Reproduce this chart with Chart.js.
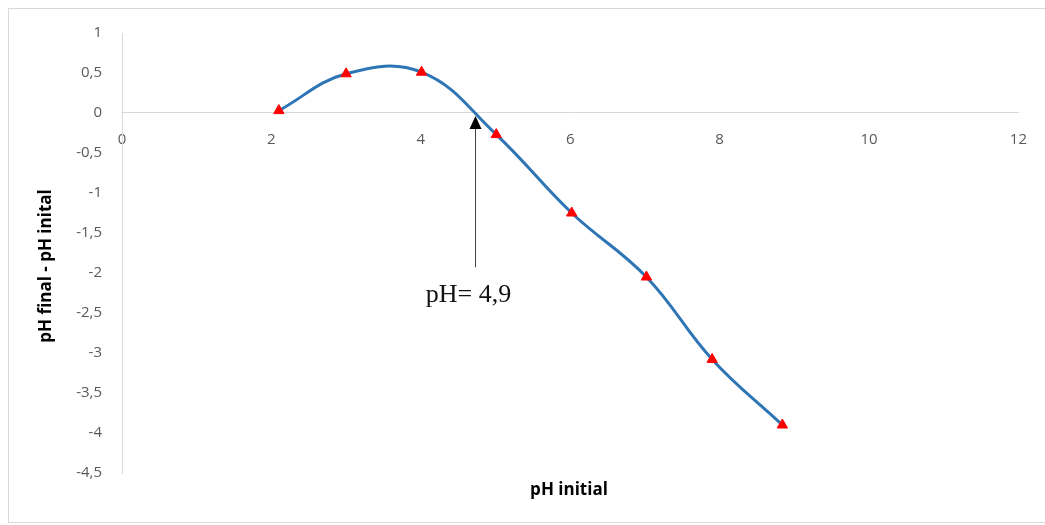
<!DOCTYPE html>
<html>
<head>
<meta charset="utf-8">
<script src="https://cdn.jsdelivr.net/npm/chart.js@4.4.1/dist/chart.umd.min.js"></script>
<style>
  html, body { margin: 0; padding: 0; background: #ffffff; }
  #wrap { position: relative; width: 1045px; height: 525px; }
</style>
</head>
<body>
<div id="wrap"><canvas id="c" width="1045" height="525"></canvas></div>
<script>
// Measured pH drift: initial pH vs (final pH - initial pH)
const phInitial = [2.1, 3.0, 4.01, 5.01, 6.02, 7.02, 7.9, 8.84];
const phDelta   = [0.03, 0.49, 0.51, -0.27, -1.25, -2.05, -3.08, -3.9];

// Axis ranges and tick spacing
const xMin = 0, xMax = 12, xStep = 2;
const yMin = -4.5, yMax = 1, yStep = 0.5;

// Axis titles
const xTitle = 'pH initial';
const yTitle = 'pH final - pH inital';

// Point of zero charge annotation
const pzcLabel = 'pH= 4,9';
const pzcArrowX = 4.73;   // where the curve crosses zero
const pzcArrowBottom = -1.93;
const pzcTextBaseline = -2.36;

const points = phInitial.map((x, i) => ({ x: x, y: phDelta[i] }));
const fmt = v => String(Math.round(v * 10) / 10).replace('.', ',');

const tickFont = { family: "'Open Sans', sans-serif", size: 15 };
const tickColor = '#595959';
const axisColor = '#d9d9d9';

const decorations = {
  id: 'decorations',
  beforeDraw(chart) {
    const ctx = chart.ctx;
    ctx.save();
    ctx.strokeStyle = '#d9d9d9';
    ctx.lineWidth = 1;
    ctx.strokeRect(8.5, 8.5, 1045, 514);
    ctx.restore();
  },
  afterDraw(chart) {
    const ctx = chart.ctx;
    const xs = chart.scales.x, ys = chart.scales.y;
    ctx.save();
    // axis titles
    ctx.fillStyle = '#000000';
    ctx.font = "bold 17px 'Open Sans', sans-serif";
    ctx.textAlign = 'center';
    ctx.textBaseline = 'middle';
    ctx.fillText(xTitle, 569, 490);
    ctx.save();
    ctx.translate(46, 266);
    ctx.rotate(-Math.PI / 2);
    ctx.fillText(yTitle, 0, 0);
    ctx.restore();

    // arrow pointing to the zero crossing
    const ax = Math.round(xs.getPixelForValue(pzcArrowX)) + 0.5;
    const tipY = ys.getPixelForValue(0) + 3;
    const baseY = ys.getPixelForValue(pzcArrowBottom);
    ctx.strokeStyle = '#404040';
    ctx.lineWidth = 1;
    ctx.beginPath();
    ctx.moveTo(ax, baseY);
    ctx.lineTo(ax, tipY + 10);
    ctx.stroke();
    ctx.fillStyle = '#000000';
    ctx.beginPath();
    ctx.moveTo(ax, tipY);
    ctx.lineTo(ax - 6, tipY + 13);
    ctx.lineTo(ax + 6, tipY + 13);
    ctx.closePath();
    ctx.fill();

    ctx.font = "26px 'Liberation Serif', serif";
    ctx.textAlign = 'center';
    ctx.textBaseline = 'alphabetic';
    ctx.fillStyle = '#111111';
    ctx.fillText(pzcLabel, ax - 7, ys.getPixelForValue(pzcTextBaseline));
    ctx.restore();
  }
};

new Chart(document.getElementById('c'), {
  type: 'line',
  data: {
    datasets: [{
      data: points,
      borderColor: '#2e75b6',
      borderWidth: 3,
      tension: 0.4,
      fill: false,
      pointStyle: 'triangle',
      pointRadius: 6,
      pointBackgroundColor: '#ff0000',
      pointBorderColor: '#ff0000',
      pointBorderWidth: 1
    }]
  },
  options: {
    responsive: false,
    animation: false,
    layout: { padding: { left: 0, top: 33, right: 25, bottom: 52 } },
    plugins: { legend: { display: false }, tooltip: { enabled: false } },
    scales: {
      x: {
        type: 'linear',
        position: { y: 0 },
        min: xMin, max: xMax,
        afterFit(scale) { scale.height = 0; },
        grid: { display: false, drawTicks: false },
        border: { display: true, color: axisColor, width: 1 },
        ticks: { stepSize: xStep, padding: 18, color: tickColor, font: tickFont, callback: v => fmt(v) }
      },
      y: {
        type: 'linear',
        min: yMin, max: yMax,
        afterFit(scale) { scale.width = 122; },
        grid: { display: false, drawTicks: false },
        border: { display: true, color: axisColor, width: 1 },
        ticks: { stepSize: yStep, padding: 20, color: tickColor, font: tickFont, callback: v => fmt(v) }
      }
    }
  },
  plugins: [decorations]
});
</script>
</body>
</html>
